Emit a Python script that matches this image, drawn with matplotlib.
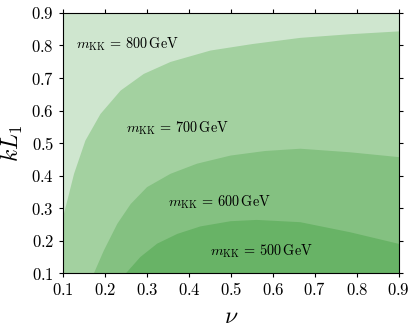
import matplotlib
matplotlib.use('Agg')
import matplotlib.pyplot as plt

plt.rcParams['mathtext.fontset'] = 'cm'
plt.rcParams['font.family'] = 'serif'
plt.rcParams['font.serif'] = ['DejaVu Serif']

# boundary between 800 GeV and 700 GeV regions
b1_x = [0.100, 0.104, 0.109, 0.125, 0.152, 0.188, 0.236, 0.291, 0.355, 0.450, 0.550, 0.664, 0.780, 0.900]
b1_y = [0.280, 0.300, 0.325, 0.407, 0.509, 0.591, 0.663, 0.714, 0.751, 0.786, 0.806, 0.825, 0.836, 0.845]
# boundary between 700 GeV and 600 GeV
b2_x = [0.172, 0.196, 0.228, 0.260, 0.299, 0.355, 0.418, 0.498, 0.580, 0.664, 0.783, 0.900]
b2_y = [0.100, 0.171, 0.253, 0.314, 0.366, 0.407, 0.438, 0.463, 0.477, 0.484, 0.473, 0.458]
# boundary between 600 GeV and 500 GeV
b3_x = [0.248, 0.283, 0.323, 0.371, 0.426, 0.498, 0.560, 0.664, 0.783, 0.900]
b3_y = [0.100, 0.151, 0.192, 0.222, 0.245, 0.261, 0.265, 0.258, 0.227, 0.191]

labels = [r'$m_{\rm KK}\,=\,800\,{\rm GeV}$', r'$m_{\rm KK}\,=\,700\,{\rm GeV}$',
          r'$m_{\rm KK}\,=\,600\,{\rm GeV}$', r'$m_{\rm KK}\,=\,500\,{\rm GeV}$']
label_x = [0.131, 0.250, 0.350, 0.450]
label_y = [0.805, 0.546, 0.318, 0.168]

colors = ['#cfe6cf', '#a3d1a0', '#84c181', '#68b366']

fig = plt.figure(figsize=(4.15, 3.33), dpi=100)
ax = fig.add_axes([0.152, 0.180, 0.809, 0.781])

ax.fill_between([0.1, 0.9], 0.1, 0.9, color=colors[0], lw=0)
ax.fill_between(b1_x, 0.1, b1_y, color=colors[1], lw=0)
ax.fill_between(b2_x, 0.1, b2_y, color=colors[2], lw=0)
ax.fill_between(b3_x, 0.1, b3_y, color=colors[3], lw=0)

for t, x, y in zip(labels, label_x, label_y):
    ax.text(x, y, t, fontsize=10.3, ha='left', va='center')

ax.set_xlim(0.1, 0.9)
ax.set_ylim(0.1, 0.9)
ticks = [0.1, 0.2, 0.3, 0.4, 0.5, 0.6, 0.7, 0.8, 0.9]
ax.set_xticks(ticks)
ax.set_yticks(ticks)
ax.set_xticklabels(['$%.1f$' % t for t in ticks])
ax.set_yticklabels(['$%.1f$' % t for t in ticks])
ax.tick_params(direction='out', top=True, right=True, labelsize=12, length=3)
ax.set_xlabel(r'$\nu$', fontsize=17)
ax.set_ylabel(r'$kL_1$', fontsize=17)

plt.savefig('out.png', dpi=100)
